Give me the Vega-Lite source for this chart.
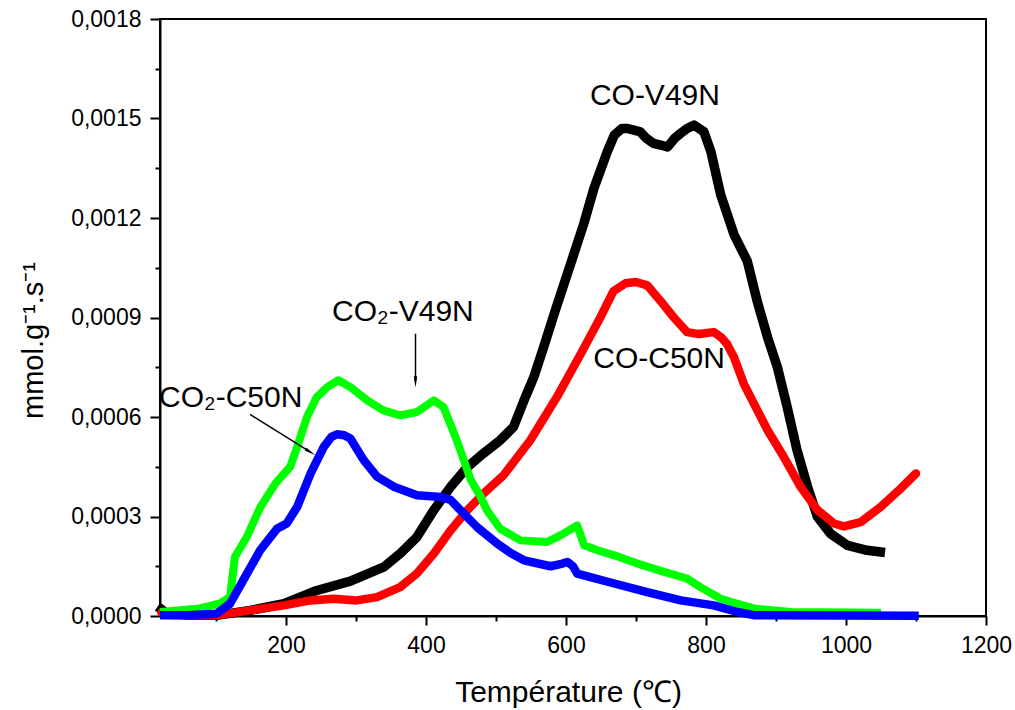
{
  "$schema": "https://vega.github.io/schema/vega-lite/v6.json",
  "width": 826,
  "height": 597,
  "autosize": "none",
  "padding": {"left": 160, "top": 19, "right": 29, "bottom": 94},
  "background": "white",
  "config": {
    "font": "Liberation Sans",
    "view": {"stroke": "black", "strokeWidth": 2},
    "axis": {
      "grid": false,
      "domainColor": "black",
      "domainWidth": 2,
      "tickColor": "black",
      "tickWidth": 2,
      "labelColor": "black",
      "labelFont": "Liberation Sans",
      "labelFontSize": 23,
      "titleFont": "Liberation Sans",
      "titleFontWeight": "normal",
      "titleColor": "black",
      "titleFontSize": 30
    }
  },
  "datasets": {
    "curves": [
      {"series": "CO-V49N", "T": 22, "v": 0.00002},
      {"series": "CO-V49N", "T": 30, "v": 0.000008},
      {"series": "CO-V49N", "T": 60, "v": 0.000003},
      {"series": "CO-V49N", "T": 101, "v": 0.000002},
      {"series": "CO-V49N", "T": 149, "v": 0.000017},
      {"series": "CO-V49N", "T": 197, "v": 0.000037},
      {"series": "CO-V49N", "T": 244, "v": 0.000077},
      {"series": "CO-V49N", "T": 292, "v": 0.000105},
      {"series": "CO-V49N", "T": 340, "v": 0.000148},
      {"series": "CO-V49N", "T": 363, "v": 0.000188},
      {"series": "CO-V49N", "T": 387, "v": 0.000238},
      {"series": "CO-V49N", "T": 411, "v": 0.000319},
      {"series": "CO-V49N", "T": 435, "v": 0.000389},
      {"series": "CO-V49N", "T": 459, "v": 0.000449},
      {"series": "CO-V49N", "T": 482, "v": 0.00049},
      {"series": "CO-V49N", "T": 506, "v": 0.00053},
      {"series": "CO-V49N", "T": 525, "v": 0.00057},
      {"series": "CO-V49N", "T": 540, "v": 0.00065},
      {"series": "CO-V49N", "T": 554, "v": 0.00072},
      {"series": "CO-V49N", "T": 568, "v": 0.00081},
      {"series": "CO-V49N", "T": 583, "v": 0.00091},
      {"series": "CO-V49N", "T": 597, "v": 0.001},
      {"series": "CO-V49N", "T": 611, "v": 0.00109},
      {"series": "CO-V49N", "T": 625, "v": 0.00118},
      {"series": "CO-V49N", "T": 640, "v": 0.00129},
      {"series": "CO-V49N", "T": 659, "v": 0.0014},
      {"series": "CO-V49N", "T": 669, "v": 0.00145},
      {"series": "CO-V49N", "T": 680, "v": 0.00147},
      {"series": "CO-V49N", "T": 687, "v": 0.00147},
      {"series": "CO-V49N", "T": 697, "v": 0.001465},
      {"series": "CO-V49N", "T": 706, "v": 0.00146},
      {"series": "CO-V49N", "T": 715, "v": 0.00144},
      {"series": "CO-V49N", "T": 725, "v": 0.001425},
      {"series": "CO-V49N", "T": 735, "v": 0.00142},
      {"series": "CO-V49N", "T": 745, "v": 0.001414},
      {"series": "CO-V49N", "T": 755, "v": 0.00144},
      {"series": "CO-V49N", "T": 763, "v": 0.001454},
      {"series": "CO-V49N", "T": 773, "v": 0.00147},
      {"series": "CO-V49N", "T": 783, "v": 0.00148},
      {"series": "CO-V49N", "T": 797, "v": 0.00146},
      {"series": "CO-V49N", "T": 807, "v": 0.0014},
      {"series": "CO-V49N", "T": 821, "v": 0.00127},
      {"series": "CO-V49N", "T": 840, "v": 0.00115},
      {"series": "CO-V49N", "T": 859, "v": 0.00107},
      {"series": "CO-V49N", "T": 873, "v": 0.00095},
      {"series": "CO-V49N", "T": 888, "v": 0.00084},
      {"series": "CO-V49N", "T": 902, "v": 0.00075},
      {"series": "CO-V49N", "T": 916, "v": 0.00063},
      {"series": "CO-V49N", "T": 930, "v": 0.0005},
      {"series": "CO-V49N", "T": 945, "v": 0.00039},
      {"series": "CO-V49N", "T": 959, "v": 0.0003},
      {"series": "CO-V49N", "T": 978, "v": 0.000248},
      {"series": "CO-V49N", "T": 1002, "v": 0.000213},
      {"series": "CO-V49N", "T": 1030, "v": 0.000198},
      {"series": "CO-V49N", "T": 1049, "v": 0.000193},

      {"series": "CO-C50N", "T": 22, "v": 0.00001},
      {"series": "CO-C50N", "T": 40, "v": 0.000003},
      {"series": "CO-C50N", "T": 101, "v": 0.000002},
      {"series": "CO-C50N", "T": 149, "v": 0.000017},
      {"series": "CO-C50N", "T": 197, "v": 0.000032},
      {"series": "CO-C50N", "T": 235, "v": 0.000047},
      {"series": "CO-C50N", "T": 268, "v": 0.000052},
      {"series": "CO-C50N", "T": 301, "v": 0.000047},
      {"series": "CO-C50N", "T": 330, "v": 0.000057},
      {"series": "CO-C50N", "T": 363, "v": 0.000087},
      {"series": "CO-C50N", "T": 387, "v": 0.000128},
      {"series": "CO-C50N", "T": 411, "v": 0.000188},
      {"series": "CO-C50N", "T": 435, "v": 0.000258},
      {"series": "CO-C50N", "T": 459, "v": 0.000319},
      {"series": "CO-C50N", "T": 482, "v": 0.000369},
      {"series": "CO-C50N", "T": 511, "v": 0.000425},
      {"series": "CO-C50N", "T": 549, "v": 0.00053},
      {"series": "CO-C50N", "T": 587, "v": 0.00066},
      {"series": "CO-C50N", "T": 621, "v": 0.00079},
      {"series": "CO-C50N", "T": 649, "v": 0.0009},
      {"series": "CO-C50N", "T": 668, "v": 0.00098},
      {"series": "CO-C50N", "T": 685, "v": 0.001003},
      {"series": "CO-C50N", "T": 700, "v": 0.001007},
      {"series": "CO-C50N", "T": 716, "v": 0.000997},
      {"series": "CO-C50N", "T": 735, "v": 0.00095},
      {"series": "CO-C50N", "T": 754, "v": 0.0009},
      {"series": "CO-C50N", "T": 773, "v": 0.000856},
      {"series": "CO-C50N", "T": 790, "v": 0.00085},
      {"series": "CO-C50N", "T": 811, "v": 0.000856},
      {"series": "CO-C50N", "T": 822, "v": 0.00084},
      {"series": "CO-C50N", "T": 830, "v": 0.00082},
      {"series": "CO-C50N", "T": 840, "v": 0.00078},
      {"series": "CO-C50N", "T": 854, "v": 0.0007},
      {"series": "CO-C50N", "T": 888, "v": 0.00056},
      {"series": "CO-C50N", "T": 911, "v": 0.00048},
      {"series": "CO-C50N", "T": 935, "v": 0.00039},
      {"series": "CO-C50N", "T": 959, "v": 0.00032},
      {"series": "CO-C50N", "T": 983, "v": 0.000279},
      {"series": "CO-C50N", "T": 997, "v": 0.00027},
      {"series": "CO-C50N", "T": 1021, "v": 0.000283},
      {"series": "CO-C50N", "T": 1050, "v": 0.00033},
      {"series": "CO-C50N", "T": 1078, "v": 0.000384},
      {"series": "CO-C50N", "T": 1100, "v": 0.00043},

      {"series": "CO2-V49N", "T": 20, "v": 0.000012},
      {"series": "CO2-V49N", "T": 77, "v": 0.000023},
      {"series": "CO2-V49N", "T": 106, "v": 0.000038},
      {"series": "CO2-V49N", "T": 120, "v": 0.000057},
      {"series": "CO2-V49N", "T": 127, "v": 0.000178},
      {"series": "CO2-V49N", "T": 144, "v": 0.000238},
      {"series": "CO2-V49N", "T": 163, "v": 0.000327},
      {"series": "CO2-V49N", "T": 185, "v": 0.0004},
      {"series": "CO2-V49N", "T": 206, "v": 0.00045},
      {"series": "CO2-V49N", "T": 216, "v": 0.00051},
      {"series": "CO2-V49N", "T": 230, "v": 0.0006},
      {"series": "CO2-V49N", "T": 244, "v": 0.00066},
      {"series": "CO2-V49N", "T": 259, "v": 0.00069},
      {"series": "CO2-V49N", "T": 275, "v": 0.000711},
      {"series": "CO2-V49N", "T": 292, "v": 0.00069},
      {"series": "CO2-V49N", "T": 316, "v": 0.00065},
      {"series": "CO2-V49N", "T": 339, "v": 0.00062},
      {"series": "CO2-V49N", "T": 363, "v": 0.000605},
      {"series": "CO2-V49N", "T": 387, "v": 0.000615},
      {"series": "CO2-V49N", "T": 411, "v": 0.00065},
      {"series": "CO2-V49N", "T": 425, "v": 0.00063},
      {"series": "CO2-V49N", "T": 444, "v": 0.00053},
      {"series": "CO2-V49N", "T": 464, "v": 0.00041},
      {"series": "CO2-V49N", "T": 478, "v": 0.00036},
      {"series": "CO2-V49N", "T": 487, "v": 0.000319},
      {"series": "CO2-V49N", "T": 506, "v": 0.000263},
      {"series": "CO2-V49N", "T": 535, "v": 0.000228},
      {"series": "CO2-V49N", "T": 573, "v": 0.000223},
      {"series": "CO2-V49N", "T": 592, "v": 0.000243},
      {"series": "CO2-V49N", "T": 616, "v": 0.000273},
      {"series": "CO2-V49N", "T": 626, "v": 0.000213},
      {"series": "CO2-V49N", "T": 645, "v": 0.000198},
      {"series": "CO2-V49N", "T": 669, "v": 0.000183},
      {"series": "CO2-V49N", "T": 702, "v": 0.000158},
      {"series": "CO2-V49N", "T": 740, "v": 0.000133},
      {"series": "CO2-V49N", "T": 773, "v": 0.000113},
      {"series": "CO2-V49N", "T": 792, "v": 0.000087},
      {"series": "CO2-V49N", "T": 821, "v": 0.000052},
      {"series": "CO2-V49N", "T": 845, "v": 0.000037},
      {"series": "CO2-V49N", "T": 870, "v": 0.000022},
      {"series": "CO2-V49N", "T": 921, "v": 0.000012},
      {"series": "CO2-V49N", "T": 1050, "v": 0.00001},

      {"series": "CO2-C50N", "T": 20, "v": 0.000002},
      {"series": "CO2-C50N", "T": 60, "v": 0.000002},
      {"series": "CO2-C50N", "T": 101, "v": 0.000007},
      {"series": "CO2-C50N", "T": 120, "v": 0.000037},
      {"series": "CO2-C50N", "T": 139, "v": 0.000108},
      {"series": "CO2-C50N", "T": 163, "v": 0.000198},
      {"series": "CO2-C50N", "T": 187, "v": 0.000263},
      {"series": "CO2-C50N", "T": 201, "v": 0.000279},
      {"series": "CO2-C50N", "T": 216, "v": 0.000329},
      {"series": "CO2-C50N", "T": 235, "v": 0.000429},
      {"series": "CO2-C50N", "T": 254, "v": 0.00051},
      {"series": "CO2-C50N", "T": 265, "v": 0.00054},
      {"series": "CO2-C50N", "T": 273, "v": 0.000548},
      {"series": "CO2-C50N", "T": 283, "v": 0.000545},
      {"series": "CO2-C50N", "T": 292, "v": 0.000535},
      {"series": "CO2-C50N", "T": 311, "v": 0.00047},
      {"series": "CO2-C50N", "T": 330, "v": 0.00042},
      {"series": "CO2-C50N", "T": 354, "v": 0.00039},
      {"series": "CO2-C50N", "T": 387, "v": 0.000364},
      {"series": "CO2-C50N", "T": 421, "v": 0.000359},
      {"series": "CO2-C50N", "T": 435, "v": 0.00035},
      {"series": "CO2-C50N", "T": 444, "v": 0.00033},
      {"series": "CO2-C50N", "T": 473, "v": 0.000268},
      {"series": "CO2-C50N", "T": 502, "v": 0.000218},
      {"series": "CO2-C50N", "T": 521, "v": 0.00019},
      {"series": "CO2-C50N", "T": 540, "v": 0.000168},
      {"series": "CO2-C50N", "T": 578, "v": 0.00015},
      {"series": "CO2-C50N", "T": 595, "v": 0.000158},
      {"series": "CO2-C50N", "T": 602, "v": 0.000163},
      {"series": "CO2-C50N", "T": 610, "v": 0.00015},
      {"series": "CO2-C50N", "T": 616, "v": 0.000128},
      {"series": "CO2-C50N", "T": 669, "v": 0.000098},
      {"series": "CO2-C50N", "T": 716, "v": 0.000072},
      {"series": "CO2-C50N", "T": 764, "v": 0.000047},
      {"series": "CO2-C50N", "T": 811, "v": 0.000032},
      {"series": "CO2-C50N", "T": 845, "v": 0.000012},
      {"series": "CO2-C50N", "T": 870, "v": 0.000002},
      {"series": "CO2-C50N", "T": 1104, "v": 0.000001}
    ],
    "labels": [
      {"label": "CO-V49N", "T": 727, "v": 0.00154},
      {"label": "CO-C50N", "T": 733, "v": 0.000747},
      {"label": "CO₂-V49N", "T": 367, "v": 0.000889},
      {"label": "CO₂-C50N", "T": 121, "v": 0.00063}
    ],
    "arrows": [
      {"name": "a1", "T1": 385, "v1": 0.000851, "T2": 385, "v2": 0.000706, "ang": 0},
      {"name": "a2", "T1": 148.6, "v1": 0.000608, "T2": 235, "v2": 0.000494, "ang": 302}
    ]
  },
  "layer": [
    {
      "data": {"name": "curves"},
      "transform": [{"filter": "datum.series === 'CO-V49N'"}],
      "mark": {"type": "line", "color": "#000000", "strokeWidth": 9.5, "strokeJoin": "round", "strokeCap": "square"},
      "encoding": {
        "x": {
          "field": "T", "type": "quantitative",
          "scale": {"domain": [20, 1200], "nice": false, "zero": false},
          "axis": {
            "title": "Température (℃)",
            "values": [100, 200, 300, 400, 500, 600, 700, 800, 900, 1000, 1100, 1200],
            "labelExpr": "datum.value % 200 === 0 ? format(datum.value, 'd') : ''",
            "tickSize": {"condition": {"test": "datum.value % 200 === 0", "value": 9}, "value": 5},
            "labelPadding": 9,
            "titleX": 408,
            "titleY": 85,
            "titleAlign": "center",
            "titleBaseline": "alphabetic",
            "labelFlush": false,
            "labelOverlap": false
          }
        },
        "y": {
          "field": "v", "type": "quantitative",
          "scale": {"domain": [0, 0.0018], "nice": false, "zero": true},
          "axis": {
            "title": "mmol.g⁻¹.s⁻¹",
            "values": [0, 0.00015, 0.0003, 0.00045, 0.0006, 0.00075, 0.0009, 0.00105, 0.0012, 0.00135, 0.0015, 0.00165, 0.0018],
            "labelExpr": "abs(round(datum.value / 0.0003) * 0.0003 - datum.value) < 1e-9 ? replace(format(datum.value, '.4f'), '.', ',') : ''",
            "tickSize": {"condition": {"test": "abs(round(datum.value / 0.0003) * 0.0003 - datum.value) < 1e-9", "value": 10}, "value": 5},
            "labelPadding": 9,
            "titleX": -118,
            "titleY": 321,
            "titleAngle": 270,
            "titleAlign": "center",
            "titleBaseline": "alphabetic",
            "titleFontSize": 29,
            "labelFlush": false,
            "labelOverlap": false
          }
        }
      }
    },
    {
      "data": {"name": "curves"},
      "transform": [{"filter": "datum.series === 'CO-C50N'"}],
      "mark": {"type": "line", "color": "#FF0000", "strokeWidth": 8.5, "strokeJoin": "round", "strokeCap": "round"},
      "encoding": {
        "x": {"field": "T", "type": "quantitative"},
        "y": {"field": "v", "type": "quantitative"}
      }
    },
    {
      "data": {"name": "curves"},
      "transform": [{"filter": "datum.series === 'CO2-V49N'"}],
      "mark": {"type": "line", "color": "#00FF00", "strokeWidth": 8, "strokeJoin": "round", "strokeCap": "butt"},
      "encoding": {
        "x": {"field": "T", "type": "quantitative"},
        "y": {"field": "v", "type": "quantitative"}
      }
    },
    {
      "data": {"name": "curves"},
      "transform": [{"filter": "datum.series === 'CO2-C50N'"}],
      "mark": {"type": "line", "color": "#0000FF", "strokeWidth": 8.5, "strokeJoin": "round", "strokeCap": "butt"},
      "encoding": {
        "x": {"field": "T", "type": "quantitative"},
        "y": {"field": "v", "type": "quantitative"}
      }
    },
    {
      "data": {"name": "arrows"},
      "mark": {"type": "rule", "color": "black", "strokeWidth": 1.5},
      "encoding": {
        "x": {"field": "T1", "type": "quantitative"},
        "y": {"field": "v1", "type": "quantitative"},
        "x2": {"field": "T2"},
        "y2": {"field": "v2"}
      }
    },
    {
      "data": {"name": "arrows"},
      "mark": {"type": "point", "shape": "M -0.3 -1 L 0.3 -1 L 0 1 Z", "filled": true, "color": "black", "opacity": 1, "size": 130},
      "encoding": {
        "x": {"field": "T2", "type": "quantitative"},
        "y": {"field": "v2", "type": "quantitative"},
        "angle": {"field": "ang", "type": "quantitative", "scale": null}
      }
    },
    {
      "data": {"name": "labels"},
      "mark": {"type": "text", "font": "Liberation Sans", "fontSize": 30, "color": "black", "align": "center", "baseline": "alphabetic"},
      "encoding": {
        "x": {"field": "T", "type": "quantitative"},
        "y": {"field": "v", "type": "quantitative"},
        "text": {"field": "label"}
      }
    }
  ]
}
